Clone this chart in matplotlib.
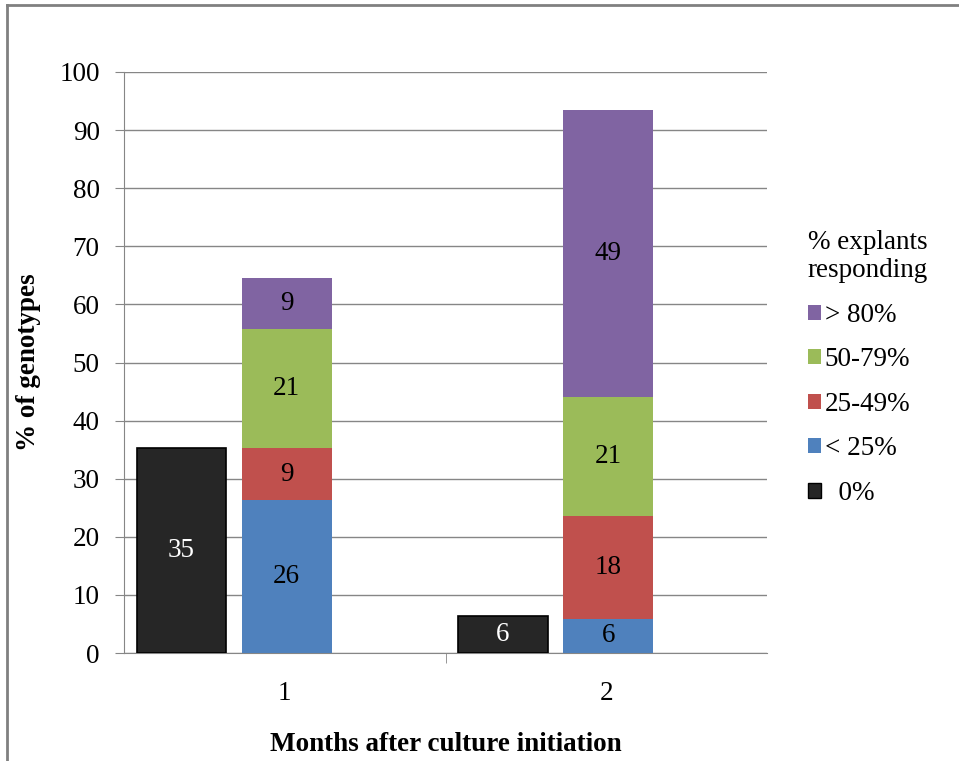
import matplotlib
matplotlib.use("Agg")
import matplotlib.pyplot as plt
from matplotlib.lines import Line2D
from matplotlib.patches import Patch
import numpy as np

months = ["1", "2"]
zero_pct = [35.3, 6.4]
below_25 = [26.4, 5.9]
pct_25_49 = [8.8, 17.6]
pct_50_79 = [20.6, 20.6]
above_80 = [8.8, 49.4]

stack_series = [
    ("< 25%", below_25, "#4F81BD"),
    ("25-49%", pct_25_49, "#C0504D"),
    ("50-79%", pct_50_79, "#9BBB59"),
    ("> 80%", above_80, "#8064A2"),
]

plt.rcParams["font.family"] = ["Liberation Serif", "DejaVu Serif"]
FS = 19.5

fig = plt.figure(figsize=(9.59, 7.61), dpi=100)
ax = fig.add_axes([0.1293, 0.1419, 0.6705, 0.7635])

x = np.arange(len(months))
width = 0.279
black_off = -0.321
stack_off = 0.006

ax.bar(x + black_off, zero_pct, width, color="#262626", edgecolor="black",
       linewidth=1.2, zorder=3)
for xi, v in zip(x, zero_pct):
    ax.text(xi + black_off, v / 2, f"{v:.0f}", ha="center", va="center",
            color="white", fontsize=FS, zorder=4)

bottom = np.zeros(len(months))
for name, vals, col in stack_series:
    vals = np.array(vals)
    ax.bar(x + stack_off, vals, width, bottom=bottom, color=col, zorder=3)
    for xi, b, v in zip(x, bottom, vals):
        ax.text(xi + stack_off, b + v / 2, f"{v:.0f}", ha="center", va="center",
                color="black", fontsize=FS, zorder=4)
    bottom += vals

ax.set_xlim(-0.5, 1.5)
ax.set_ylim(0, 100)
ax.set_yticks(np.arange(0, 101, 10))
ax.yaxis.grid(True, color="#868686", linewidth=1.0, zorder=0)
ax.set_axisbelow(True)

ax.set_xticks([0.5], minor=True)
ax.set_xticks(x)
ax.set_xticklabels(months)
ax.tick_params(axis="x", which="major", length=0, pad=20, labelsize=FS)
ax.tick_params(axis="x", which="minor", length=7, color="#868686")
ax.tick_params(axis="y", length=6.5, color="#868686", labelsize=FS, pad=11)

for side in ["top", "right"]:
    ax.spines[side].set_visible(False)
for side in ["left", "bottom"]:
    ax.spines[side].set_color("#868686")

ax.set_xlabel("Months after culture initiation", fontsize=FS, fontweight="bold",
              labelpad=19)
ax.set_ylabel("% of genotypes", fontsize=FS, fontweight="bold", labelpad=13)

handles = [Patch(facecolor=c, edgecolor="none") for _, _, c in reversed(stack_series)]
labels = [n for n, _, _ in reversed(stack_series)]
handles.append(Patch(facecolor="#262626", edgecolor="black"))
labels.append("  0%")
leg = fig.legend(handles, labels, title="% explants\nresponding",
                 loc="upper left", bbox_to_anchor=(0.828, 0.716),
                 frameon=False, fontsize=FS, title_fontsize=FS,
                 handlelength=0.48, handleheight=0.48, handletextpad=0.15,
                 labelspacing=0.72, borderpad=0, alignment="left")

# outer chart frame (top and left edges visible)
fig.add_artist(Line2D([0.007, 1.0], [0.994, 0.994], transform=fig.transFigure,
                      color="#808080", linewidth=2))
fig.add_artist(Line2D([0.007, 0.007], [0.0, 0.994], transform=fig.transFigure,
                      color="#808080", linewidth=2))

fig.savefig("out.png", dpi=100)
